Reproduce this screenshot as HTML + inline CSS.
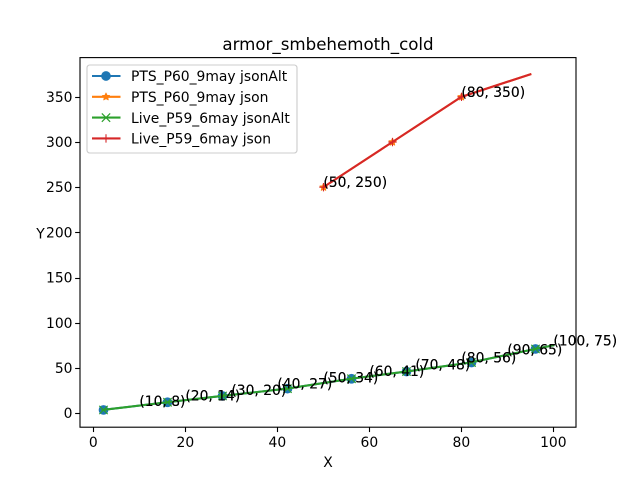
<!DOCTYPE html>
<html>
<head>
<meta charset="utf-8">
<style>
html,body{margin:0;padding:0;background:#fff;width:640px;height:480px;overflow:hidden}
svg{display:block}
text{font-family:"DejaVu Sans","Liberation Sans",sans-serif;fill:#000}
</style>
</head>
<body>
<svg id="chart" xmlns="http://www.w3.org/2000/svg" width="640" height="480" viewBox="0 0 640 480">
  <rect x="0" y="0" width="640" height="480" fill="#fff"/>
  <text x="328" y="50" font-size="16.67" text-anchor="middle">armor_smbehemoth_cold</text>
  <text x="328" y="467" font-size="13.89" text-anchor="middle">X</text>
  <text x="40.5" y="238.5" font-size="13.89" text-anchor="middle">Y</text>
  <g id="plot"></g>
  <rect x="80" y="57.6" width="496" height="369.6" fill="none" stroke="#000" stroke-width="1.11"/>
  <g id="ticks"></g>
  <g id="legend">
    <rect x="87" y="65" width="210" height="88" rx="2.8" fill="#fff" fill-opacity="0.8" stroke="#ccc" stroke-width="1.11"/>
  </g>
</svg>
<script>
const xTicks = [0, 20, 40, 60, 80, 100];
const yTicks = [0, 50, 100, 150, 200, 250, 300, 350];

const seriesNames = ["PTS_P60_9may jsonAlt", "PTS_P60_9may json", "Live_P59_6may jsonAlt", "Live_P59_6may json"];
const seriesColors = ["#1f77b4", "#ff7f0e", "#2ca02c", "#d62728"];
const seriesMarkers = ["circle", "star", "x", "plus"];

const lowX = [2, 16, 28, 42, 56, 68, 82, 96, 100];
const ptsAltY = [3.5, 12, 19, 27, 38, 46, 56, 71, 75];
const liveAltY = [3.5, 12, 19, 27, 38, 46, 56, 71, 75];

const highX = [50, 65, 80, 95];
const ptsJsonY = [250, 300, 350, 375];
const liveJsonY = [250, 300, 350, 375];

const lowLabelX = [10, 20, 30, 40, 50, 60, 70, 80, 90, 100];
const lowLabelY = [8, 14, 20, 27, 34, 41, 48, 56, 65, 75];
const highLabelX = [50, 80];
const highLabelY = [250, 350];

const NS = "http://www.w3.org/2000/svg";
const plot = document.getElementById("plot");
const ticks = document.getElementById("ticks");
const legend = document.getElementById("legend");

function sx(v) { return 80 + (v + 2.9) * 4.6; }
function sy(v) { return 427.2 - (v + 15.6) * 0.9035; }

function make(tag, attrs, parent) {
  const el = document.createElementNS(NS, tag);
  for (const k in attrs) el.setAttribute(k, attrs[k]);
  parent.appendChild(el);
  return el;
}

function drawMarker(kind, cx, cy, color, parent) {
  let el;
  if (kind === "circle") {
    el = make("circle", { cx: cx, cy: cy, r: 4.85, fill: color }, parent);
  } else if (kind === "star") {
    const pts = [];
    for (let i = 0; i < 10; i++) {
      const r = i % 2 === 0 ? 3.8 : 1.8;
      const a = -Math.PI / 2 + i * Math.PI / 5;
      pts.push((cx + r * Math.cos(a)).toFixed(2) + "," + (cy + r * Math.sin(a)).toFixed(2));
    }
    el = make("polygon", { points: pts.join(" "), fill: color, stroke: color, "stroke-width": 0.9, "stroke-linejoin": "round" }, parent);
  } else if (kind === "x") {
    const d = 4.17;
    el = make("path", { d: `M${cx - d} ${cy - d}L${cx + d} ${cy + d}M${cx - d} ${cy + d}L${cx + d} ${cy - d}`, stroke: color, "stroke-width": 1.2, fill: "none" }, parent);
  } else {
    const d = 4.17;
    el = make("path", { d: `M${cx - d} ${cy}L${cx + d} ${cy}M${cx} ${cy - d}L${cx} ${cy + d}`, stroke: color, "stroke-width": 1.1, fill: "none" }, parent);
  }
  
  
}

function drawSeries(i, xs, ys) {
  const pts = xs.map((x, j) => sx(x).toFixed(2) + "," + sy(ys[j]).toFixed(2)).join(" ");
  const line = make("polyline", { points: pts, fill: "none", stroke: seriesColors[i], "stroke-width": 2.08, "stroke-linejoin": "round", "stroke-linecap": "square" }, plot);
  
  
  for (let j = 0; j < xs.length - 1; j++) {
    drawMarker(seriesMarkers[i], Math.round(sx(xs[j])) + 0.5, sy(ys[j]), seriesColors[i], plot);
  }
}

drawSeries(0, lowX, ptsAltY);
drawSeries(1, highX, ptsJsonY);
drawSeries(2, lowX, liveAltY);
drawSeries(3, highX, liveJsonY);

function drawLabels(xs, ys) {
  for (let pass = 0; pass < 2; pass++) {
    xs.forEach((x, j) => {
      const t = make("text", { x: sx(x).toFixed(2), y: sy(ys[j]).toFixed(2), "font-size": 13.89 }, plot);
      
      
      t.textContent = "(" + x + ", " + ys[j] + ")";
    });
  }
}
drawLabels(lowLabelX, lowLabelY);
drawLabels(highLabelX, highLabelY);

xTicks.forEach(v => {
  const p = Math.round(sx(v)) + 0.5;
  const m = make("line", { x1: p, x2: p, y1: 427.2, y2: 432.06, stroke: "#000", "stroke-width": 1.11 }, ticks);
  
  
  const t = make("text", { x: sx(v).toFixed(2), y: 447, "font-size": 13.89, "text-anchor": "middle" }, ticks);
  
  
  t.textContent = v;
});

yTicks.forEach(v => {
  const p = Math.round(sy(v)) + 0.5;
  const m = make("line", { x1: 75.14, x2: 80, y1: p, y2: p, stroke: "#000", "stroke-width": 1.11 }, ticks);
  
  
  const t = make("text", { x: 72.5, y: (sy(v) + 5).toFixed(2), "font-size": 13.89, "text-anchor": "end" }, ticks);
  
  
  t.textContent = v;
});

seriesNames.forEach((name, i) => {
  const y = 76 + i * 20.8;
  const l = make("line", { x1: 92, x2: 120.5, y1: y, y2: y, stroke: seriesColors[i], "stroke-width": 2.08 }, legend);
  
  
  drawMarker(seriesMarkers[i], 106, y, seriesColors[i], legend);
  const t = make("text", { x: 131, y: (y + 5.2).toFixed(2), "font-size": 13.89 }, legend);
  
  
  t.textContent = name;
});
</script>
</body>
</html>
